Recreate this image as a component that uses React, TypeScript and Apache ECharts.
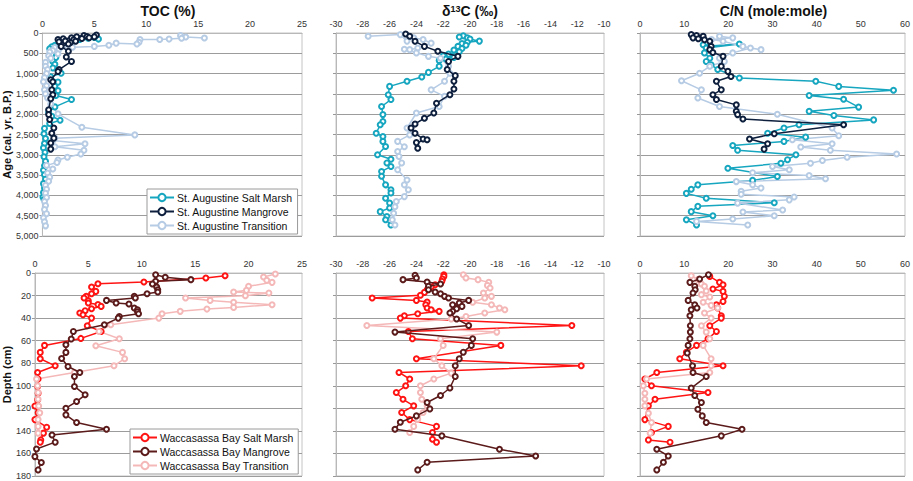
import React, { useEffect, useRef } from "react";
import * as echarts from "echarts";

const FONT = '"Liberation Sans", Arial, Helvetica, sans-serif';

// ---------- Titles & names ----------
const panelTitles = ["TOC (%)", "{b|δ}{s|13}{b|C (‰)}", "C/N (mole:mole)"];
const topYName = "Age (cal. yr. B.P.)";
const bottomYName = "Depth (cm)";

const saNames = ["St. Augustine Salt Marsh", "St. Augustine Mangrove", "St. Augustine Transition"];
const wbNames = ["Waccasassa Bay Salt Marsh", "Waccasassa Bay Mangrove", "Waccasassa Bay Transition"];
const saColors = ["#17a6bf", "#0d1f3d", "#b6cbe4"];
const wbColors = ["#ff1414", "#5c1b1b", "#f5b8b8"];

// ---------- St. Augustine: TOC (%) vs Age ----------
const saSaltMarshTOC = [[5.4,150],[5.0,110],[4.4,130],[3.6,160],[2.9,190],[2.2,230],[1.6,270],[1.2,300],[0.9,340],[1.4,360],[0.7,390],[1.0,430],[1.3,480],[0.9,540],[1.3,600],[1.0,700],[1.2,770],[1.0,860],[1.8,990],[0.8,1080],[1.5,1210],[1.2,1310],[1.5,1420],[1.3,1540],[2.8,1640],[1.2,1820],[0.6,1950],[0.9,2050],[1.7,2150],[0.7,2230],[0.2,2350],[0.15,2480],[0.3,2600],[0.2,2720],[0.1,2830],[0.25,2940],[0.15,3050],[0.3,3160],[0.2,3270],[0.1,3380],[0.2,3490],[0.3,3600],[0.1,3710],[0.2,3820],[0.1,3930],[0.05,4040],[0.15,4100]];
const saMangroveTOC = [[1.5,160],[2.0,140],[2.8,120],[3.3,95],[4.0,60],[4.3,85],[5.2,50],[5.0,95],[4.5,115],[3.8,135],[3.0,170],[2.2,200],[1.6,215],[2.7,235],[3.2,205],[2.5,270],[1.8,330],[2.5,450],[2.3,590],[2.8,700],[1.6,900],[1.5,950],[0.8,1150],[1.0,1200],[0.9,1400],[1.0,1520],[0.8,1620],[0.6,1890],[0.6,2010],[0.7,2130],[1.1,2340],[0.9,2470],[1.1,2590],[0.8,2710],[0.8,2860]];
const saTransitionTOC = [[15.6,125],[13.8,100],[13.3,65],[13.4,130],[12.2,150],[11.3,160],[9.4,160],[9.3,230],[9.1,270],[7.1,250],[6.4,300],[5.0,330],[2.9,350],[2.0,320],[1.2,360],[1.6,400],[1.0,430],[0.7,470],[1.5,510],[0.6,560],[0.8,620],[0.3,720],[0.3,820],[0.5,900],[0.4,1000],[0.2,1100],[0.1,1200],[0.4,1300],[0.2,1400],[0.3,1500],[0.5,1600],[0.8,1750],[1.5,1990],[3.8,2320],[8.9,2510],[1.2,2590],[1.0,2650],[4.1,2730],[1.2,2800],[4.0,2890],[3.7,2980],[2.4,3060],[1.5,3130],[1.4,3190],[0.4,3260],[1.0,3350],[0.5,3450],[0.7,3550],[0.6,3650],[0.3,3750],[0.4,3850],[0.3,3950],[0.4,4050],[0.2,4150],[0.3,4250],[0.2,4350],[0.4,4450],[0.1,4550],[0.2,4650],[0.3,4750]];

// ---------- St. Augustine: d13C vs Age ----------
const saSaltMarshD13C = [[-20.5,70],[-20.8,100],[-20.2,120],[-20.0,150],[-19.3,200],[-20.2,230],[-20.6,260],[-20.3,300],[-20.9,330],[-20.6,380],[-21.2,420],[-20.8,460],[-21.6,520],[-22.0,560],[-21.2,600],[-21.8,640],[-22.3,680],[-22.3,820],[-23.1,970],[-23.6,1085],[-24.7,1190],[-26.0,1315],[-26.1,1520],[-25.9,1640],[-26.6,1810],[-26.5,2010],[-26.5,2180],[-26.7,2260],[-27.0,2470],[-26.5,2550],[-26.5,2670],[-26.3,2795],[-26.9,3000],[-25.9,3110],[-26.2,3200],[-25.9,3290],[-26.6,3410],[-26.6,3530],[-26.3,3740],[-25.9,3860],[-25.9,3940],[-26.3,4070],[-26.0,4190],[-26.0,4310],[-26.7,4400],[-26.2,4520],[-26.3,4600],[-25.9,4730]];
const saMangroveD13C = [[-24.8,25],[-24.5,80],[-24.1,205],[-23.4,330],[-22.4,450],[-20.9,575],[-21.6,700],[-21.7,900],[-21.1,1050],[-21.2,1190],[-21.2,1380],[-21.5,1520],[-22.5,1730],[-22.7,1970],[-23.4,2100],[-24.1,2240],[-24.4,2340],[-24.1,2470],[-23.5,2610],[-23.2,2630],[-24.0,2700],[-23.9,2840]];
const saTransitionD13C = [[-27.6,80],[-25.2,40],[-24.7,200],[-24.2,120],[-23.5,160],[-22.9,250],[-23.9,370],[-24.5,410],[-24.9,400],[-24.0,490],[-23.1,575],[-22.2,620],[-21.6,820],[-21.5,990],[-21.9,1190],[-22.9,1400],[-21.9,1560],[-22.3,1810],[-24.0,1970],[-24.7,2340],[-24.5,2510],[-25.4,2670],[-24.9,2800],[-25.4,2920],[-25.3,3040],[-25.1,3200],[-25.4,3370],[-24.7,3620],[-24.9,3740],[-24.6,3860],[-24.9,4030],[-25.5,4150],[-25.6,4280],[-25.7,4440],[-25.8,4600],[-25.6,4730]];

// ---------- St. Augustine: C/N vs Age ----------
const saSaltMarshCN = [[14.3,290],[15.8,320],[22.5,270],[15.0,370],[14.6,490],[15.8,620],[15.0,700],[16.1,780],[17.6,900],[22.5,1110],[39.8,1190],[45.0,1315],[57.4,1410],[38.3,1540],[46.1,1630],[49.5,1825],[38.3,1930],[43.9,2030],[52.9,2140],[36.0,2260],[32.6,2340],[28.9,2470],[37.5,2565],[32.6,2670],[21.0,2770],[22.1,2890],[35.3,3000],[33.4,3120],[31.9,3210],[19.9,3330],[31.1,3535],[25.5,3630],[13.1,3740],[11.6,3850],[10.5,3950],[15.0,4070],[30.4,4180],[13.1,4270],[11.6,4400],[16.5,4500],[10.5,4600],[12.8,4730]];
const saMangroveCN = [[11.6,40],[12.8,60],[14.3,80],[12.0,120],[13.2,140],[14.6,165],[15.8,205],[16.1,330],[15.8,410],[16.5,480],[18.8,575],[18.4,820],[19.9,945],[20.6,1070],[17.3,1190],[18.4,1400],[16.5,1520],[17.3,1640],[21.8,1770],[21.8,1930],[22.1,2010],[23.3,2120],[46.1,2260],[30.4,2480],[24.8,2610],[28.9,2730],[28.1,2860]];
const saTransitionCN = [[18.0,80],[21.0,120],[16.2,160],[18.8,205],[23.3,330],[27.4,410],[25.0,370],[21.0,490],[18.0,620],[19.1,700],[15.8,820],[13.5,990],[9.4,1175],[13.9,1400],[13.1,1600],[18.0,1810],[31.1,2000],[43.5,2340],[45.0,2530],[34.5,2630],[43.5,2730],[36.4,2810],[43.1,2890],[58.1,2980],[46.9,3060],[41.3,3140],[38.6,3210],[30.0,3290],[33.8,3370],[25.5,3440],[38.3,3510],[42.0,3590],[21.8,3660],[25.5,3740],[27.4,3820],[22.9,3900],[22.9,3970],[34.9,4040],[33.8,4110],[22.1,4190],[32.3,4360],[23.3,4410],[30.4,4500],[21.0,4580],[12.8,4640],[24.4,4730]];

// ---------- Waccasassa Bay: TOC (%) vs Depth ----------
const wbSaltMarshTOC = [[17.8,2.4],[16.0,4.4],[10.2,8],[5.9,9.5],[5.3,12.4],[5.7,16.3],[5.3,18.4],[4.8,20.7],[4.6,22.2],[5.0,24.6],[5.0,26.6],[5.9,28],[6.2,29.6],[5.3,31.7],[4.7,33.4],[4.2,35.5],[4.5,37],[5.3,40],[4.9,46.8],[6.2,51.8],[4.3,58],[0.9,64.2],[0.5,70.4],[0.5,76],[1.9,82.3],[0.25,88.2],[0.3,94],[0.25,100.6],[0.3,106.6],[0.25,112.5],[0.0,118],[0.3,124],[0.0,130],[1.1,136.7],[0.8,142],[0.55,148],[0.5,150]];
const wbMangroveTOC = [[11.3,1.5],[12.2,3.8],[14.6,5.9],[11.3,7.4],[11.0,9.8],[11.4,12.4],[11.5,14.8],[11.5,16.9],[10.5,18.4],[9.3,20.7],[9.4,22.2],[6.7,24.3],[7.6,26.6],[8.8,27.5],[9.3,31],[9.6,32.6],[9.6,34.3],[9.7,36.1],[7.9,38.5],[7.8,40],[6.5,45.9],[3.6,51.8],[3.4,58.6],[2.9,63.6],[2.9,70.4],[2.5,75.8],[3.1,82.9],[4.2,88.2],[3.7,91.8],[3.7,100.6],[4.7,108],[3.9,114],[2.9,119.9],[2.9,125.8],[3.9,132.6],[6.7,138.5],[1.6,143.6],[1.9,150],[0.15,156],[0.0,162.8],[0.6,168],[0.3,174.6]];
const wbTransitionTOC = [[22.5,0.9],[21.4,3.6],[21.7,6.5],[22.2,8.3],[20.0,11.8],[19.8,15.4],[18.6,16.9],[21.9,17.8],[19.7,20.1],[14.1,22.2],[16.4,24.3],[18.6,26],[22.2,28.1],[18.6,30.5],[16.1,32],[13.6,34],[11.9,36.1],[11.6,40],[7.1,45.9],[6.0,51.8],[7.9,58.3],[5.7,64.5],[8.2,70.4],[8.4,76],[7.4,82.3],[3.7,88.2],[0.15,94],[0.25,100],[0.3,106],[0.3,112],[0.35,118],[0.45,124],[0.3,130],[0.3,136],[0.3,142]];

// ---------- Waccasassa Bay: d13C vs Depth ----------
const wbSaltMarshD13C = [[-21.95,1.5],[-21.95,3],[-22.05,5.3],[-22.1,7.4],[-22.6,10.4],[-22.9,12.4],[-23.2,14.8],[-23.4,17.2],[-23.7,19.8],[-27.3,22.2],[-24.0,24.3],[-23.2,25.8],[-23.3,28.1],[-23.2,31],[-22.9,32.6],[-22.3,34],[-23.9,36.1],[-24.9,37.9],[-25.2,40],[-12.4,46.5],[-24.6,51.8],[-24.3,58.3],[-17.7,64.2],[-24.0,76],[-11.7,82.3],[-25.3,88.2],[-24.5,94],[-24.8,100],[-25.5,106],[-25.0,112],[-24.2,117.8],[-25.1,123.7],[-24.5,130],[-22.5,136],[-22.8,141.5],[-22.8,147.4],[-22.5,150]];
const wbMangroveD13C = [[-24.1,2],[-24.0,4.4],[-25.0,5.9],[-23.2,8],[-22.2,9.8],[-23.1,11.8],[-23.1,14.8],[-22.6,16.9],[-22.2,18.4],[-21.9,20.7],[-21.6,22.2],[-20.1,24.3],[-20.8,26.6],[-21.3,28.1],[-20.6,29.6],[-21.0,31.7],[-21.3,34],[-21.5,35.5],[-21.0,40.8],[-20.1,46.5],[-25.6,52.4],[-19.8,58.3],[-19.9,64.2],[-20.5,70.2],[-20.8,76],[-21.1,82.3],[-21.1,91.8],[-21.5,102],[-22.2,108.6],[-23.2,114.8],[-23.0,120.5],[-24.0,126.7],[-25.2,132.3],[-25.6,138.5],[-22.1,144.4],[-17.8,156.3],[-15.1,162.2],[-23.2,167.8],[-23.9,174.6]];
const wbTransitionD13C = [[-20.5,1.5],[-20.3,4.4],[-19.4,5.9],[-18.6,8.3],[-18.7,11],[-18.5,13.3],[-19.0,17.8],[-18.4,20.7],[-18.9,22.2],[-19.8,26],[-18.4,28.1],[-17.8,31],[-17.4,32.6],[-18.9,35.5],[-20.3,38.5],[-21.4,40.8],[-27.7,46.5],[-18.0,52.4],[-22.2,58.3],[-22.0,64.2],[-22.7,76],[-22.1,82.3],[-21.4,88.8],[-22.7,94],[-23.7,100],[-23.7,106],[-23.6,112],[-23.2,117.8],[-23.5,123.7],[-23.9,129.6],[-24.2,136],[-24.5,141.5]];

// ---------- Waccasassa Bay: C/N vs Depth ----------
const wbSaltMarshCN = [[15.8,3],[18.0,8.3],[18.8,10.4],[16.5,14.2],[18.8,16.3],[19.1,20.7],[18.8,25.2],[17.3,28.1],[17.6,31],[18.4,37.9],[18.4,40],[15.8,46.8],[17.3,51.8],[15.4,58.3],[12.8,64.2],[10.5,70.2],[9.0,76],[18.8,82.3],[3.8,88.2],[1.1,94],[2.6,100],[15.4,106],[3.4,112],[1.9,117.8],[1.1,130],[6.4,136],[2.6,141.5],[1.9,148],[6.8,150]];
const wbMangroveCN = [[15.5,1.5],[13.5,5.3],[11.3,8.3],[12.4,11.8],[12.5,14.8],[12.0,17.8],[10.9,24.3],[12.4,28.1],[12.9,31],[11.6,32.6],[11.3,37.9],[11.4,46.8],[11.4,52.4],[11.3,58.3],[10.9,64.2],[10.7,71],[11.9,82.3],[12.0,88.2],[15.0,91.8],[11.6,102],[12.4,108.6],[13.9,114.8],[13.1,120.8],[14.1,126.7],[15.0,132.6],[23.1,138.5],[18.4,144.4],[3.8,156.3],[6.4,162.2],[5.3,167.8],[3.8,174.6]];
const wbTransitionCN = [[11.6,2.4],[13.1,5.9],[13.9,9.8],[14.6,11.8],[15.0,16],[13.9,19.2],[15.8,21.3],[14.3,26],[16.1,28.7],[17.6,31],[14.6,35.5],[16.1,40],[13.9,46.8],[15.0,52.4],[15.8,58.3],[14.3,64.2],[16.1,76],[16.1,82.3],[15.8,88.2],[1.5,94],[0.75,100],[1.1,106.6],[1.1,112],[1.1,117.8],[1.9,124.3],[2.6,132.6],[2.3,142]];

// ---------- Axes ----------
const xRanges = [
  { min: 0, max: 25, interval: 5 },
  { min: -30, max: -10, interval: 2 },
  { min: 0, max: 60, interval: 10 },
];
const yRanges = [
  { min: 0, max: 5000, interval: 500 },
  { min: 0, max: 180, interval: 20 },
];

const saData = [
  [saSaltMarshTOC, saMangroveTOC, saTransitionTOC],
  [saSaltMarshD13C, saMangroveD13C, saTransitionD13C],
  [saSaltMarshCN, saMangroveCN, saTransitionCN],
];
const wbData = [
  [wbSaltMarshTOC, wbMangroveTOC, wbTransitionTOC],
  [wbSaltMarshD13C, wbMangroveD13C, wbTransitionD13C],
  [wbSaltMarshCN, wbMangroveCN, wbTransitionCN],
];

const gridLefts = [34, 336, 640];
const gridWidths = [268, 268, 267];
const gridTops = [33, 273];
const gridHeight = 203;

function buildOption() {
  const grid: any[] = [];
  const xAxis: any[] = [];
  const yAxis: any[] = [];
  const series: any[] = [];
  for (let r = 0; r < 2; r++) {
    for (let c = 0; c < 3; c++) {
      const idx = r * 3 + c;
      grid.push({
        left: gridLefts[c],
        top: gridTops[r],
        width: gridWidths[c],
        height: gridHeight,
        show: true,
        borderColor: "#c4c4c4",
        borderWidth: 1,
        backgroundColor: "transparent",
      });
      xAxis.push({
        type: "value",
        gridIndex: idx,
        position: "top",
        ...xRanges[c],
        axisLine: { show: true, lineStyle: { color: "#b8b8b8" } },
        axisTick: { show: false },
        splitLine: { show: false },
        axisLabel: { fontSize: 9, color: "#333", fontFamily: FONT, margin: 5 },
      });
      yAxis.push({
        type: "value",
        gridIndex: idx,
        inverse: true,
        ...yRanges[r],
        name: c === 0 ? (r === 0 ? topYName : bottomYName) : "",
        nameLocation: "middle",
        nameGap: 20,
        nameRotate: 90,
        nameTextStyle: { fontSize: 11, fontWeight: "bold", color: "#111", fontFamily: FONT },
        axisLine: { show: true, lineStyle: { color: "#b8b8b8" } },
        axisTick: { show: true, length: 3, lineStyle: { color: "#999" } },
        splitLine: { show: true, lineStyle: { color: "#9c9c9c", width: 1 } },
        axisLabel: { show: c === 0, fontSize: 9, color: "#333", fontFamily: FONT, margin: 4 },
      });
      const names = r === 0 ? saNames : wbNames;
      const colors = r === 0 ? saColors : wbColors;
      const data = r === 0 ? saData[c] : wbData[c];
      for (let s = 0; s < 3; s++) {
        series.push({
          type: "line",
          name: names[s],
          xAxisIndex: idx,
          yAxisIndex: idx,
          data: data[s],
          symbol: "emptyCircle",
          symbolSize: 5,
          showSymbol: true,
          lineStyle: { color: colors[s], width: 1.5 },
          itemStyle: { color: colors[s], borderWidth: 1.5 },
          emphasis: { disabled: true },
          z: 2 + (s === 1 ? 1 : 0),
        });
      }
    }
  }

  const titleCenters = gridLefts.map((l, i) => l + gridWidths[i] / 2);
  const graphic: any[] = panelTitles.map((t, i) => ({
    type: "text",
    x: titleCenters[i],
    y: 11,
    style: {
      text: t,
      fontFamily: FONT,
      fontSize: 14,
      fontWeight: "bold",
      fill: "#111",
      align: "center",
      verticalAlign: "middle",
      lineHeight: 14,
      rich: {
        b: { fontSize: 14, fontWeight: "bold", fontFamily: FONT, lineHeight: 14, fill: "#111" },
        s: { fontSize: 9, fontWeight: "bold", fontFamily: FONT, lineHeight: 6, verticalAlign: "top", fill: "#111" },
      },
    },
  }));

  const legendCommon = {
    orient: "vertical",
    backgroundColor: "#fff",
    borderColor: "#9a9a9a",
    borderWidth: 1,
    borderRadius: 0,
    itemWidth: 24,
    itemHeight: 9,
    itemGap: 3,
    selectedMode: false,
    textStyle: { fontSize: 10.5, color: "#111", fontFamily: FONT, padding: [0, 0, 0, -2] },
  };

  return {
    animation: false,
    backgroundColor: "#fff",
    grid,
    xAxis,
    yAxis,
    series,
    graphic,
    legend: [
      { ...legendCommon, data: saNames, left: 147, top: 189, padding: [3, 5, 3, 2] },
      { ...legendCommon, data: wbNames, left: 130, top: 429, padding: [3, 5, 3, 2] },
    ],
  };
}

export default function App() {
  const ref = useRef<HTMLDivElement>(null);
  useEffect(() => {
    if (!ref.current) return;
    const chart = echarts.init(ref.current, undefined, { renderer: "svg" });
    chart.setOption(buildOption() as any);
    return () => chart.dispose();
  }, []);
  return (
    <div
      ref={ref}
      style={{ position: "fixed", left: 0, top: 0, width: 913, height: 481, background: "#fff" }}
    />
  );
}
